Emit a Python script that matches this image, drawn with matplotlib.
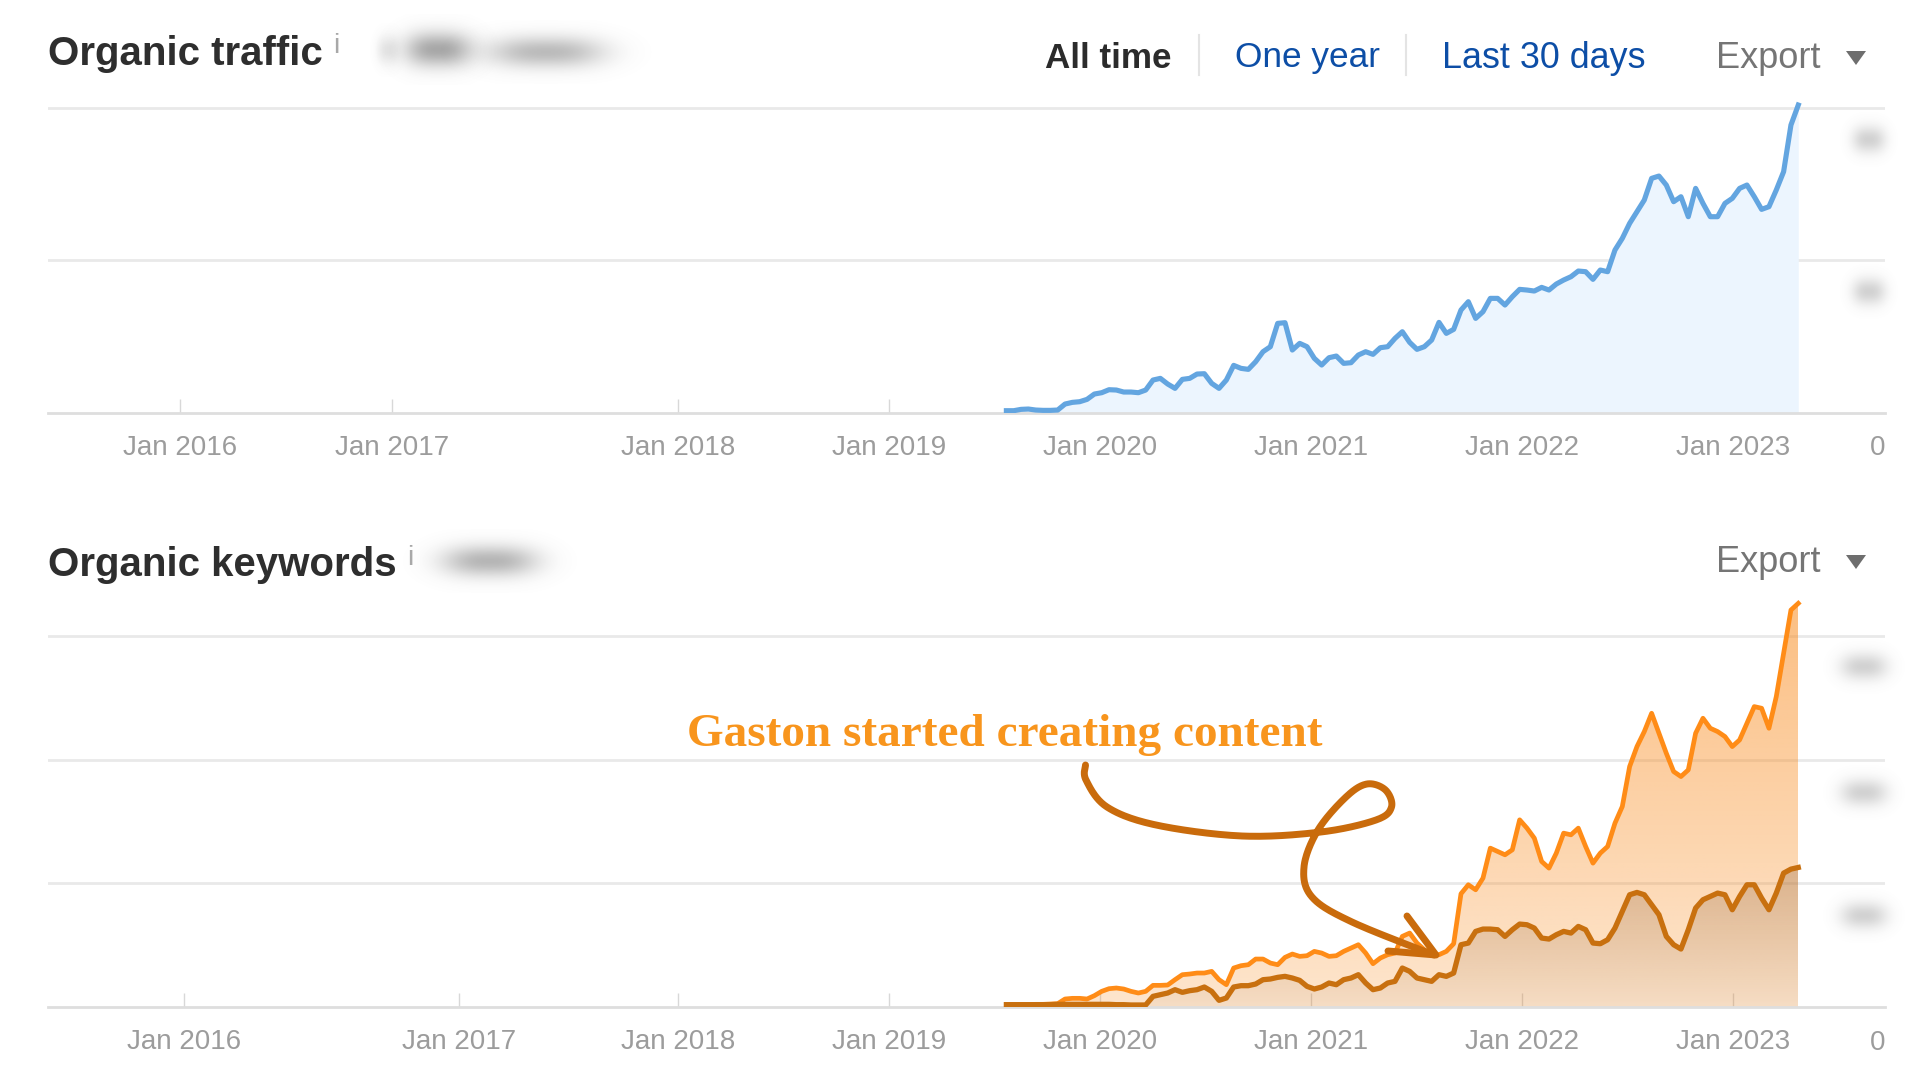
import numpy as np
import matplotlib
matplotlib.use('Agg')
import matplotlib.pyplot as plt

plt.rcParams['font.family'] = ['Liberation Sans', 'DejaVu Sans']

first_date = 2019.556
last_date = 2023.309

traffic = [6, 6, 10, 11, 8, 7, 7, 8, 26, 31, 33, 40, 56, 60, 69, 68, 62, 62, 60, 68,
           98, 103, 86, 73, 100, 103, 116, 117, 88, 73, 98, 142, 133, 130, 153, 183, 198, 268, 270, 188,
           208, 198, 163, 143, 165, 170, 148, 150, 173, 183, 175, 195, 198, 223, 243, 211, 190, 198, 218, 271,
           238, 250, 308, 333, 283, 303, 343, 343, 323, 348, 370, 368, 365, 376, 368, 386, 398, 408, 425, 423,
           400, 428, 423, 488, 523, 568, 603, 638, 703, 710, 683, 633, 648, 588, 673, 628, 588, 588, 628, 643,
           673, 683, 648, 610, 618, 668, 723, 863, 923]

keywords_total = [7, 7, 7, 7, 8, 8, 9, 10, 24, 26, 26, 24, 34, 47, 55, 57, 54, 47, 42, 47,
                  65, 65, 66, 82, 97, 99, 102, 102, 107, 82, 67, 117, 124, 127, 144, 144, 132, 127, 149, 159,
                  152, 154, 167, 162, 152, 154, 167, 177, 187, 162, 130, 147, 157, 162, 212, 222, 192, 172, 157, 157,
                  167, 190, 340, 367, 352, 387, 477, 467, 457, 472, 562, 537, 507, 437, 417, 462, 522, 517, 537, 482,
                  432, 462, 482, 552, 602, 722, 782, 827, 882, 822, 762, 707, 692, 712, 822, 867, 837, 827, 812, 782,
                  802, 852, 902, 897, 837, 932, 1062, 1192, 1212]

keywords_top = [7, 7, 7, 7, 7, 7, 7, 8, 8, 8, 8, 8, 8, 8, 8, 7, 7, 6, 6, 6,
                32, 37, 42, 52, 44, 49, 52, 60, 47, 20, 27, 60, 64, 64, 69, 82, 84, 89, 92, 87,
                80, 62, 54, 60, 72, 67, 82, 87, 97, 72, 52, 57, 72, 77, 117, 107, 87, 82, 77, 97,
                92, 102, 187, 192, 227, 234, 234, 232, 212, 232, 249, 247, 237, 207, 204, 217, 227, 222, 242, 232,
                192, 190, 202, 237, 287, 337, 344, 337, 307, 277, 212, 187, 174, 232, 297, 322, 332, 342, 337, 292,
                332, 367, 367, 327, 292, 342, 402, 414, 419]

tick_labels = ['Jan 2016', 'Jan 2017', 'Jan 2018', 'Jan 2019', 'Jan 2020', 'Jan 2021', 'Jan 2022', 'Jan 2023']
# el eje no es lineal antes de 2018, cada panel coloca los años distinto
ticks_traffic = [2015.64, 2016.645, 2018.0, 2019.0, 2020.0, 2021.0, 2022.0, 2023.0]
ticks_keywords = [2015.66, 2016.96, 2018.0, 2019.0, 2020.0, 2021.0, 2022.0, 2023.0]
grid_traffic = [457, 915]
grid_keywords = [371, 742, 1114]

W, H = 1920, 1080
X_MIN, X_MAX = 2015.014, 2023.72


def make_axes(fig, top_px, bottom_px):
    ax = fig.add_axes([48 / W, 1 - bottom_px / H, (1885 - 48) / W, (bottom_px - top_px) / H])
    ax.set_xlim(X_MIN, X_MAX)
    ax.patch.set_alpha(0)
    for s in ['top', 'left', 'right']:
        ax.spines[s].set_visible(False)
    ax.spines['bottom'].set_color('#dedede')
    ax.spines['bottom'].set_linewidth(2)
    ax.tick_params(axis='y', length=0, labelleft=False)
    ax.tick_params(axis='x', direction='in', length=10, width=1, color='#d8d8d8',
                   pad=16, labelsize=20, labelcolor='#9c9c9c')
    ax.grid(axis='y', color='#e9e9e9', linewidth=2)
    ax.set_axisbelow(True)
    return ax


def gradient_fill(ax, x, y, color, alpha_top, alpha_bottom):
    poly = ax.fill_between(x, 0, y, color='none', linewidth=0)
    rgb = matplotlib.colors.to_rgb(color)
    img = np.zeros((256, 2, 4))
    img[..., :3] = rgb
    img[..., 3] = np.linspace(alpha_top, alpha_bottom, 256)[:, None]
    ymax = max(y)
    im = ax.imshow(img, extent=[x[0], x[-1], 0, ymax], aspect='auto', origin='upper', zorder=1.5)
    im.set_clip_path(poly.get_paths()[0], transform=ax.transData)


def smudge(ax, cx, cy, w, h, strength=0.45):
    # manchas grises donde el original tiene los numeros borrosos
    xs = np.linspace(-1.6, 1.6, 80)
    ys = np.linspace(-1.6, 1.6, 50)
    xx, yy = np.meshgrid(xs, ys)
    img = np.zeros((50, 80, 4))
    img[..., :3] = 0.45
    img[..., 3] = strength * np.exp(-(np.abs(xx) ** 2.6 + yy ** 2) * 1.6)
    ax.imshow(img, extent=[cx - 0.8 * w, cx + 0.8 * w, cy + 0.8 * h, cy - 0.8 * h],
              aspect='auto', interpolation='bilinear', zorder=2)


def catmull_rom(pts, n=24):
    p = np.array([pts[0]] + pts + [pts[-1]], dtype=float)
    out = []
    for i in range(1, len(p) - 2):
        t = np.linspace(0, 1, n)[:, None]
        out.append(0.5 * (2 * p[i] + (p[i + 1] - p[i - 1]) * t
                          + (2 * p[i - 1] - 5 * p[i] + 4 * p[i + 1] - p[i + 2]) * t ** 2
                          + (3 * p[i] - p[i - 1] - 3 * p[i + 1] + p[i + 2]) * t ** 3))
    return np.vstack(out)


fig = plt.figure(figsize=(19.2, 10.8), dpi=100, facecolor='white')

# panel de trafico
ax1 = make_axes(fig, 100, 412.7)
ax1.set_ylim(0, 915 * (412.7 - 100) / (412.7 - 107.7))
x1 = np.linspace(first_date, last_date, len(traffic))
ax1.fill_between(x1, 0, traffic, color='#ecf5fe', linewidth=0, zorder=1.5)
ax1.plot(x1, traffic, color='#63a5e0', linewidth=3.7, solid_joinstyle='round', zorder=3)
ax1.set_xticks(ticks_traffic, tick_labels)
ax1.set_yticks(grid_traffic)
ax1.set_xlim(X_MIN, X_MAX)

# panel de keywords
ax2 = make_axes(fig, 600, 1007)
ax2.set_ylim(0, 1114 * (1007 - 600) / (1007 - 636))
x2 = np.linspace(first_date, last_date, len(keywords_total))
gradient_fill(ax2, x2, keywords_total, '#f98a1c', 0.55, 0.22)
gradient_fill(ax2, x2, keywords_top, '#8a5a30', 0.30, 0.06)
ax2.plot(x2, keywords_total, color='#ff8c17', linewidth=3.4, zorder=3)
ax2.plot(x2, keywords_top, color='#c8700f', linewidth=3.8, zorder=3.1)
ax2.set_xticks(ticks_keywords, tick_labels)
ax2.set_yticks(grid_keywords)
ax2.set_xlim(X_MIN, X_MAX)

# capa en pixeles para cabeceras y la flecha dibujada a mano
ov = fig.add_axes([0, 0, 1, 1])
ov.axis('off')
ov.patch.set_alpha(0)

smudge(ov, 388, 50, 26, 36, 0.18)
smudge(ov, 438, 50, 80, 44, 0.62)
smudge(ov, 546, 52, 140, 40, 0.48)
smudge(ov, 490, 561, 115, 40, 0.52)
smudge(ov, 1869, 140, 40, 34, 0.32)
smudge(ov, 1869, 292, 40, 34, 0.32)
smudge(ov, 1864, 667, 56, 34, 0.32)
smudge(ov, 1864, 793, 56, 34, 0.32)
smudge(ov, 1864, 916, 56, 34, 0.32)

ov.set_xlim(0, W)
ov.set_ylim(H, 0)

ov.text(48, 54, 'Organic traffic', fontsize=29, fontweight='bold', color='#2e2e2e', va='center')
ov.text(48, 565, 'Organic keywords', fontsize=29, fontweight='bold', color='#2e2e2e', va='center')
ov.text(336, 46, 'i', fontsize=20, color='#a8a8a8', ha='center', va='center')
ov.text(410, 558, 'i', fontsize=20, color='#a8a8a8', ha='center', va='center')

ov.text(1045, 58, 'All time', fontsize=25.2, fontweight='bold', color='#2b2b2b', va='center')
ov.text(1235, 58, 'One year', fontsize=25.4, color='#0d4ea6', va='center')
ov.text(1442, 58, 'Last 30 days', fontsize=25.8, color='#0d4ea6', va='center')
ov.plot([1199, 1199], [35, 75], color='#e4e4e4', linewidth=1.5)
ov.plot([1406, 1406], [35, 75], color='#e4e4e4', linewidth=1.5)

for y_export in [56, 560]:
    ov.text(1716, y_export + 3, 'Export', fontsize=26, color='#757575', va='center')
    ov.fill([1846, 1866, 1856], [y_export - 5, y_export - 5, y_export + 9], color='#6e6e6e', linewidth=0)

ov.text(1885, 448, '0', fontsize=20, color='#9c9c9c', ha='right', va='center')
ov.text(1885, 1043, '0', fontsize=20, color='#9c9c9c', ha='right', va='center')

ov.text(1005, 735, 'Gaston started creating content', fontsize=34, fontweight='bold',
        family=['Liberation Serif', 'DejaVu Serif'], color='#f8951d', ha='center', va='center')

squiggle = [(1085.5, 765), (1086, 780), (1107, 807), (1156, 825), (1242, 836), (1321, 832), (1376, 820),
            (1391.5, 807), (1385.5, 790), (1367, 784), (1346, 797), (1318, 830), (1304, 867), (1312, 897),
            (1352, 922), (1434, 955)]
curve = catmull_rom(squiggle)
ov.plot(curve[:, 0], curve[:, 1], color='#c96b0c', linewidth=5, solid_capstyle='round', zorder=5)
ov.plot([1407, 1436, 1388], [916, 955, 951], color='#c96b0c', linewidth=5,
        solid_capstyle='round', solid_joinstyle='round', zorder=5)

fig.savefig('out.png', dpi=100)
